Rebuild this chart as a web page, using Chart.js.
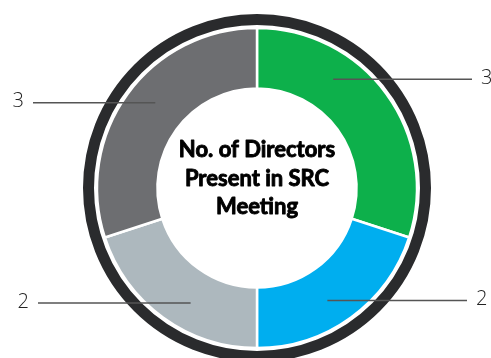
<!DOCTYPE html>
<html>
<head>
<meta charset="utf-8">
<script src="https://cdn.jsdelivr.net/npm/chart.js@4.4.1/dist/chart.umd.min.js"></script>
<style>
  html, body { margin: 0; padding: 0; background: #fff; }
  #wrap { width: 491px; height: 358px; position: relative; }
</style>
</head>
<body>
<div id="wrap"><canvas id="srcChart"></canvas></div>
<script>
const categories = ['Segment 1', 'Segment 2', 'Segment 3', 'Segment 4'];
const directors = [3, 2, 2, 3];
const sliceColors = ['#0db04b', '#00aeef', '#adb8be', '#6d6e71'];
const centerTitle = ['No. of Directors', 'Present in SRC', 'Meeting'];

// where each leader line leaves its slice (deg clockwise from top) and where it ends
const leaderAngles = [35, 148, 210, 310];
const leaderEndX = [472, 467, 38, 33];

const leaderPlugin = {
  id: 'leaders',
  afterDatasetsDraw(chart) {
    const ctx = chart.ctx;
    const meta = chart.getDatasetMeta(0);
    const arc0 = meta.data[0];
    const cx = arc0.x, cy = arc0.y;

    // outer dark ring
    ctx.save();
    ctx.beginPath();
    ctx.arc(cx, cy, arc0.outerRadius + 8.5, 0, Math.PI * 2);
    ctx.lineWidth = 11;
    ctx.strokeStyle = '#2a2b2d';
    ctx.stroke();

    // leader lines + value labels
    meta.data.forEach((arc, i) => {
      const r = (arc.innerRadius + arc.outerRadius) / 2 + 3;
      const a = leaderAngles[i] * Math.PI / 180;
      const x0 = cx + r * Math.sin(a);
      const y0 = cy - r * Math.cos(a);
      const x1 = leaderEndX[i];
      ctx.beginPath();
      ctx.moveTo(x0, y0);
      ctx.lineTo(x1, y0);
      ctx.lineWidth = 1.5;
      ctx.strokeStyle = '#555555';
      ctx.stroke();

      const right = x1 > cx;
      ctx.fillStyle = '#222';
      ctx.font = '300 20px "Open Sans", Lato, sans-serif';
      ctx.textBaseline = 'middle';
      ctx.textAlign = right ? 'left' : 'right';
      ctx.fillText(String(directors[i]), right ? x1 + 9 : x1 - 9, y0 - 1);
    });

    // centre title (stroked a little to get the heavy look)
    ctx.fillStyle = '#000';
    ctx.strokeStyle = '#000';
    ctx.lineWidth = 0.9;
    ctx.lineJoin = 'round';
    ctx.font = 'bold 22px Lato, Roboto, sans-serif';
    ctx.textAlign = 'center';
    ctx.textBaseline = 'middle';
    centerTitle.forEach((line, i) => {
      const y = cy - 38 + i * 28.5;
      ctx.fillText(line, cx, y);
      ctx.strokeText(line, cx, y);
    });
    ctx.restore();
  }
};

new Chart(document.getElementById('srcChart'), {
  type: 'doughnut',
  data: {
    labels: categories,
    datasets: [{
      data: directors,
      backgroundColor: sliceColors,
      borderColor: '#ffffff',
      borderWidth: 2.5,
      hoverOffset: 0
    }]
  },
  options: {
    responsive: true,
    maintainAspectRatio: false,
    animation: false,
    radius: 160,
    cutout: 105,
    layout: { padding: { left: 23, top: 18 } },
    plugins: {
      legend: { display: false },
      tooltip: { enabled: false }
    }
  },
  plugins: [leaderPlugin]
});
</script>
</body>
</html>
